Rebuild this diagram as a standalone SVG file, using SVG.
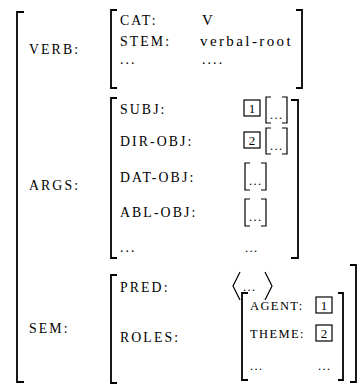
<svg xmlns="http://www.w3.org/2000/svg" width="363" height="392" viewBox="0 0 363 392">
<style>
.t{font-family:"Liberation Serif",serif;font-size:13.8px;letter-spacing:2.1px;fill:#000}
.s{font-family:"Liberation Serif",serif;font-size:12.5px;letter-spacing:1.4px;fill:#000}
.v{font-family:"Liberation Serif",serif;font-size:15px;letter-spacing:2.4px;fill:#000}
.n{font-family:"Liberation Serif",serif;font-size:13px;fill:#000;text-anchor:middle}
.br{fill:none;stroke:#000;stroke-width:1.8}
.sb{fill:none;stroke:#000;stroke-width:1.2}
.bx{fill:none;stroke:#000;stroke-width:1.2}
</style>
<rect width="363" height="392" fill="#fff"/>
<g id="outer">
<path class="br" d="M24,12 H17 V382 H24"/>
</g>
<g id="verb">
<text class="t" x="29" y="54">VERB:</text>
<path class="br" d="M117,10 H111 V88 H117"/>
<path class="br" d="M296,10 H302 V88 H296"/>
<text class="t" x="120" y="25">CAT:</text>
<text class="v" x="202" y="25">V</text>
<text class="t" x="120" y="46">STEM:</text>
<text class="v" x="200" y="46">verbal-root</text>
<text class="t" x="120" y="64">...</text>
<text class="t" x="202" y="64">....</text>
</g>
<g id="args">
<text class="t" x="29" y="190">ARGS:</text>
<path class="br" d="M117,98 H111 V258 H117"/>
<path class="br" d="M291,100 H298 V258 H291"/>
<text class="t" x="120" y="114">SUBJ:</text>
<rect class="bx" x="244" y="100" width="16" height="16"/>
<text class="n" x="252" y="113">1</text>
<path class="sb" d="M271,97 H266 V123 H271 M282,97 H287 V123 H282"/>
<text class="s" x="270" y="119">...</text>
<text class="t" x="120" y="146">DIR-OBJ:</text>
<rect class="bx" x="244" y="132" width="16" height="16"/>
<text class="n" x="252" y="145">2</text>
<path class="sb" d="M271,128 H266 V154 H271 M282,128 H287 V154 H282"/>
<text class="s" x="270" y="150">...</text>
<text class="t" x="120" y="182">DAT-OBJ:</text>
<path class="sb" d="M250,163 H245 V190 H250 M261,163 H266 V190 H261"/>
<text class="s" x="249" y="185">...</text>
<text class="t" x="120" y="217">ABL-OBJ:</text>
<path class="sb" d="M250,199 H245 V226 H250 M261,199 H266 V226 H261"/>
<text class="s" x="249" y="221">...</text>
<text class="t" x="120" y="252">...</text>
<text class="s" x="245" y="252">...</text>
</g>
<g id="sem">
<text class="t" x="29" y="333">SEM:</text>
<path class="br" d="M117,275 H111 V383 H117"/>
<path class="br" d="M350,265 H356 V382 H350"/>
<text class="t" x="120" y="292">PRED:</text>
<path class="sb" d="M240,272 L233,286 L240,300 M265,272 L272,286 L265,300"/>
<text class="s" x="243" y="291">...</text>
<text class="t" x="120" y="342">ROLES:</text>
</g>
<g id="roles">
<path class="br" d="M248,293 H242 V380 H248"/>
<path class="br" d="M338,293 H343 V380 H338"/>
<text class="s" x="250" y="310">AGENT:</text>
<rect class="bx" x="316" y="297" width="16" height="16"/>
<text class="n" x="324" y="310">1</text>
<text class="s" x="250" y="338">THEME:</text>
<rect class="bx" x="316" y="325" width="16" height="16"/>
<text class="n" x="324" y="338">2</text>
<text class="s" x="250" y="370">...</text>
<text class="s" x="318" y="370">...</text>
</g>
</svg>
